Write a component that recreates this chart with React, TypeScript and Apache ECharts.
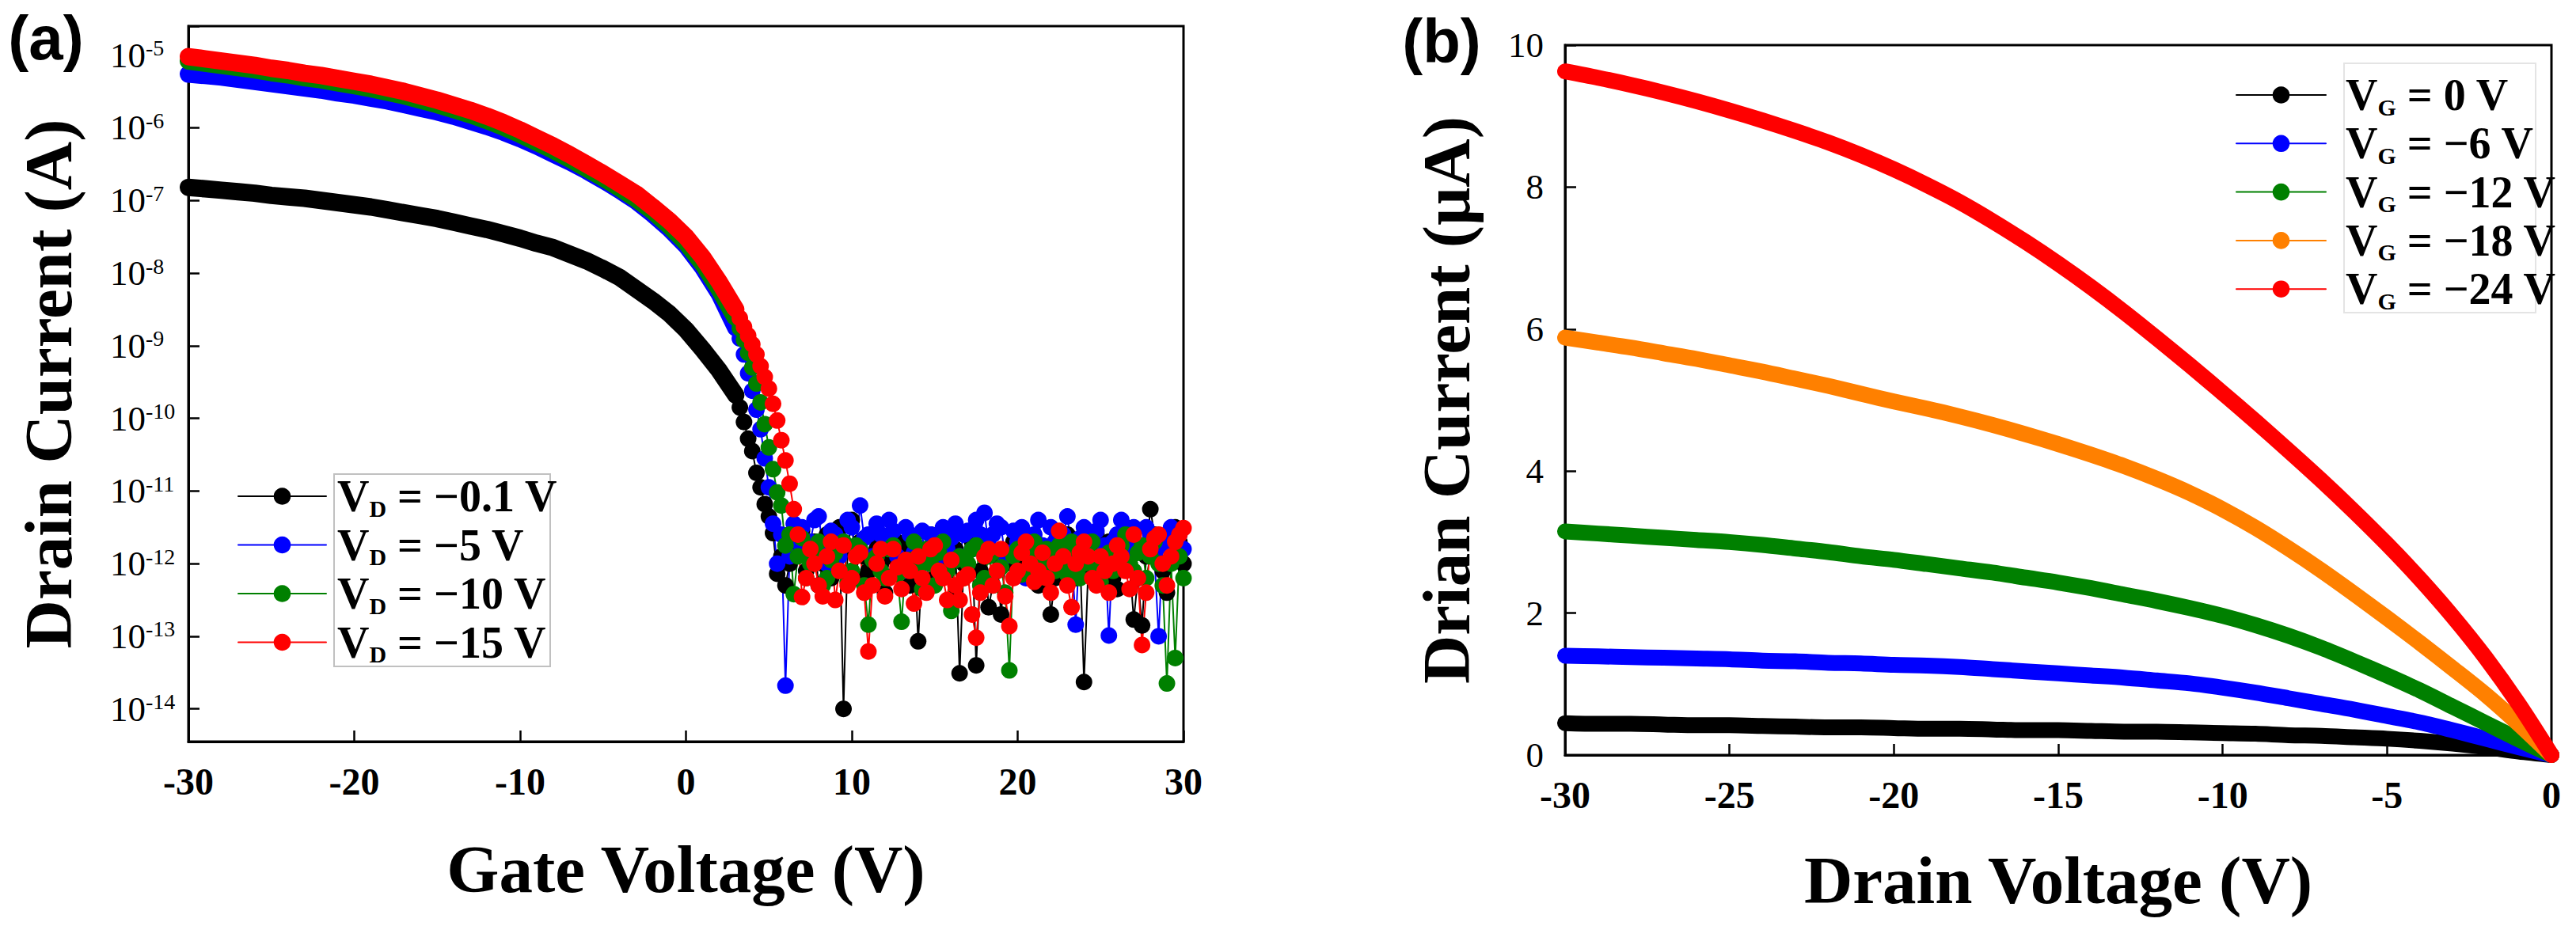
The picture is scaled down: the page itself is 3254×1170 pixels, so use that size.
import { useEffect, useRef } from 'react';
import * as echarts from 'echarts';

// ---------- Panel (a): transfer curves (log10 of drain current, A) ----------
const vgOn = [-30, -29, -28, -27, -26, -25, -24, -23, -22, -21, -20, -19, -18, -17, -16, -15, -14, -13, -12, -11, -10, -9, -8, -7, -6, -5, -4, -3, -2, -1, 0, 1, 2, 3];
const vgOff = [
  3, 3.25, 3.5, 3.75, 4, 4.25, 4.5, 4.75, 5, 5.25, 5.5, 5.75, 6, 6.25, 6.5, 6.75,
  7, 7.25, 7.5, 7.75, 8, 8.25, 8.5, 8.75, 9, 9.25, 9.5, 9.75, 10, 10.25, 10.5, 10.75,
  11, 11.25, 11.5, 11.75, 12, 12.25, 12.5, 12.75, 13, 13.25, 13.5, 13.75, 14, 14.25, 14.5, 14.75,
  15, 15.25, 15.5, 15.75, 16, 16.25, 16.5, 16.75, 17, 17.25, 17.5, 17.75, 18, 18.25, 18.5, 18.75,
  19, 19.25, 19.5, 19.75, 20, 20.25, 20.5, 20.75, 21, 21.25, 21.5, 21.75, 22, 22.25, 22.5, 22.75,
  23, 23.25, 23.5, 23.75, 24, 24.25, 24.5, 24.75, 25, 25.25, 25.5, 25.75, 26, 26.25, 26.5, 26.75,
  27, 27.25, 27.5, 27.75, 28, 28.25, 28.5, 28.75, 29, 29.25, 29.5, 29.75, 30,
];

const blackOnExp = [-6.82, -6.84, -6.86, -6.88, -6.90, -6.93, -6.95, -6.97, -7.00, -7.03, -7.06, -7.09, -7.13, -7.17, -7.21, -7.25, -7.30, -7.35, -7.40, -7.46, -7.52, -7.59, -7.65, -7.74, -7.83, -7.94, -8.06, -8.22, -8.38, -8.56, -8.78, -9.05, -9.34, -9.68];
const blueOnExp = [-5.26, -5.28, -5.30, -5.33, -5.36, -5.39, -5.42, -5.45, -5.48, -5.52, -5.55, -5.59, -5.63, -5.68, -5.73, -5.78, -5.84, -5.91, -5.98, -6.06, -6.15, -6.25, -6.36, -6.47, -6.59, -6.72, -6.86, -7.01, -7.19, -7.39, -7.62, -7.92, -8.28, -8.75];
const greenOnExp = [-5.08, -5.11, -5.14, -5.17, -5.20, -5.24, -5.27, -5.31, -5.34, -5.38, -5.42, -5.46, -5.51, -5.56, -5.62, -5.68, -5.75, -5.82, -5.90, -5.99, -6.09, -6.20, -6.31, -6.43, -6.56, -6.69, -6.83, -6.98, -7.15, -7.35, -7.58, -7.87, -8.22, -8.62];
const redOnExp = [-5.02, -5.05, -5.08, -5.11, -5.14, -5.18, -5.21, -5.25, -5.28, -5.32, -5.36, -5.40, -5.45, -5.50, -5.56, -5.62, -5.69, -5.76, -5.84, -5.93, -6.03, -6.14, -6.25, -6.37, -6.50, -6.63, -6.77, -6.91, -7.09, -7.28, -7.50, -7.78, -8.12, -8.50];

const blackOffExp = [
  -9.68, -9.85, -10.05, -10.28, -10.45, -10.75, -10.95, -11.18, -11.35, -11.58, -12.14, -11.9, -12.3,
  -12.0, -11.75, -11.6,
  -11.55, -12.1, -11.9, -11.7,
  -12.3, -12.0, -11.6, -12.2,
  -11.9, -11.5, -14.0, -11.8,
  -11.4, -12.2, -11.7, -11.9,
  -12.1, -11.6, -11.8, -12.0,
  -12.4, -11.9, -11.65, -12.1,
  -11.9, -11.7, -12.3, -11.8,
  -13.07, -12.0, -11.9, -11.6,
  -12.2, -11.95, -11.75, -12.1,
  -12.5, -11.8, -13.51, -12.0,
  -12.1, -11.7, -13.4, -12.1,
  -11.8, -12.6, -12.3, -11.9,
  -12.7, -12.0, -11.9, -11.7,
  -11.6, -12.1, -12.0, -11.8,
  -11.7, -12.3, -12.2, -11.9,
  -12.7, -12.2, -11.9, -11.7,
  -11.6, -12.0, -12.2, -11.8,
  -13.63, -12.1, -11.85, -11.6,
  -12.1, -11.9, -11.7, -12.2,
  -12.35, -11.8, -11.5, -12.0,
  -12.77, -12.2, -12.85, -11.9,
  -11.25, -11.6, -11.7, -12.1,
  -12.4, -11.8, -11.5, -11.7,
  -12.0,
];
const blueOffExp = [
  -8.75, -8.90, -9.12, -9.38, -9.62, -9.88, -10.15, -10.55, -10.95, -11.45, -12.0, -11.6, -13.68,
  -11.9, -11.45, -11.7,
  -11.5, -11.85, -11.7, -11.4,
  -11.35, -11.75, -12.0, -11.55,
  -11.6, -11.9, -11.75, -11.4,
  -11.5, -11.8, -11.2, -11.65,
  -11.6, -11.9, -11.45, -11.6,
  -11.7, -11.4, -11.55, -11.9,
  -12.1, -11.5, -11.6, -11.85,
  -11.8, -11.55, -12.3, -11.6,
  -11.7, -11.9, -11.5, -11.8,
  -11.65, -11.45, -11.9, -11.6,
  -11.55, -11.8, -11.4, -11.6,
  -11.3, -11.75, -11.6, -11.45,
  -11.5, -11.9, -11.85, -11.55,
  -11.7, -11.5, -12.2, -11.8,
  -11.6, -11.4, -11.75, -11.95,
  -11.5, -11.7, -11.9, -11.6,
  -11.35, -11.8, -12.84, -11.65,
  -11.5, -11.9, -11.7, -11.55,
  -11.4, -11.75, -12.99, -11.7,
  -11.6, -11.4, -11.85, -11.65,
  -11.5, -11.8, -11.75, -11.5,
  -11.6, -11.9, -13.0, -11.75,
  -11.7, -11.5, -11.9, -11.6,
  -11.8,
];
const greenOffExp = [
  -8.62, -8.76, -8.92, -9.10, -9.30, -9.52, -9.78, -10.08, -10.40, -10.70, -11.02, -11.20, -11.75,
  -11.6, -12.42, -11.9,
  -11.65, -12.2, -12.0, -11.8,
  -11.7, -12.3, -12.2, -11.95,
  -11.85, -12.1, -11.7, -12.25,
  -12.1, -11.75, -11.8, -12.3,
  -12.84, -11.95, -11.9, -12.1,
  -12.2, -11.8, -11.75, -12.15,
  -12.8, -12.0, -11.95, -11.7,
  -12.1, -12.35, -11.8, -12.0,
  -12.3, -11.85, -11.7, -12.1,
  -12.65, -11.95, -11.9, -12.2,
  -12.0, -11.8, -11.75, -12.3,
  -12.2, -11.9, -11.85, -12.1,
  -12.05, -12.4, -13.47, -11.9,
  -11.8, -12.15, -12.1, -11.85,
  -11.7, -12.2, -12.0, -11.8,
  -11.9, -12.1, -11.75, -11.95,
  -12.15, -11.7, -11.8, -12.2,
  -12.0, -11.85, -11.7, -12.05,
  -12.25, -11.9, -11.85, -12.1,
  -11.95, -11.75, -11.6, -12.0,
  -12.1, -11.85, -11.75, -12.2,
  -11.9, -11.7, -12.0, -12.3,
  -13.65, -12.0, -13.3, -11.9,
  -12.2,
];
const redOffExp = [
  -8.50, -8.62, -8.74, -8.86, -8.98, -9.12, -9.28, -9.43, -9.59, -9.80, -10.03, -10.30, -10.58,
  -10.9, -11.25, -11.6,
  -12.46, -12.2, -11.8, -12.0,
  -12.3, -12.45, -11.9, -11.7,
  -12.5, -12.1, -11.75, -12.3,
  -12.2, -11.9, -11.85, -12.4,
  -13.21, -12.3, -12.0, -11.8,
  -12.45, -12.2, -11.8, -12.05,
  -12.35, -11.95, -12.1, -12.55,
  -11.9, -12.2, -12.4, -11.8,
  -11.75, -12.1, -12.2, -12.5,
  -11.95, -12.3, -12.5, -12.2,
  -12.15, -12.7, -13.02, -12.4,
  -11.9, -11.8, -12.3, -12.1,
  -11.8, -12.45, -12.86, -12.2,
  -12.1, -11.85, -11.7, -12.0,
  -12.25, -12.1, -11.85, -12.2,
  -12.4, -12.0, -11.55, -11.9,
  -12.3, -12.6, -12.0, -11.85,
  -11.7, -11.9, -12.2, -12.3,
  -11.9, -12.1, -12.4, -12.0,
  -11.75, -11.9, -12.1, -12.35,
  -11.6, -12.2, -13.12, -12.4,
  -11.8, -11.65, -11.6, -12.0,
  -12.3, -11.9, -11.7, -11.6,
  -11.51,
];

const aNames = ['VD=-0.1', 'VD=-5', 'VD=-10', 'VD=-15'];
const aLabels = ['−0.1', '−5', '−10', '−15'];
const aColors = ['#000000', '#0000ff', '#008000', '#ff0000'];

// ---------- Panel (b): output curves (drain current, µA) ----------
const vd = [-30, -29, -28, -27, -26, -25, -24, -23, -22, -21, -20, -19, -18, -17, -16, -15, -14, -13, -12, -11, -10, -9, -8, -7, -6, -5, -4, -3, -2, -1, 0];
const idVg0 = [0.45, 0.44, 0.44, 0.43, 0.42, 0.42, 0.41, 0.40, 0.39, 0.39, 0.38, 0.37, 0.37, 0.36, 0.35, 0.35, 0.34, 0.33, 0.33, 0.32, 0.31, 0.30, 0.28, 0.27, 0.25, 0.23, 0.20, 0.16, 0.11, 0.05, 0];
const idVg6 = [1.40, 1.39, 1.38, 1.37, 1.36, 1.35, 1.33, 1.32, 1.30, 1.29, 1.27, 1.26, 1.24, 1.21, 1.18, 1.15, 1.12, 1.09, 1.05, 1.01, 0.95, 0.88, 0.80, 0.72, 0.64, 0.55, 0.46, 0.35, 0.23, 0.11, 0];
const idVg12 = [3.15, 3.12, 3.09, 3.06, 3.03, 3.00, 2.96, 2.91, 2.86, 2.80, 2.75, 2.69, 2.63, 2.57, 2.50, 2.43, 2.35, 2.26, 2.17, 2.07, 1.96, 1.83, 1.68, 1.51, 1.32, 1.12, 0.91, 0.68, 0.45, 0.22, 0];
const idVg18 = [5.88, 5.81, 5.74, 5.66, 5.58, 5.49, 5.40, 5.30, 5.20, 5.09, 4.98, 4.88, 4.77, 4.65, 4.52, 4.38, 4.23, 4.07, 3.89, 3.69, 3.46, 3.20, 2.91, 2.60, 2.27, 1.93, 1.58, 1.22, 0.85, 0.44, 0];
const idVg24 = [9.63, 9.54, 9.44, 9.33, 9.21, 9.08, 8.94, 8.79, 8.63, 8.45, 8.25, 8.03, 7.79, 7.52, 7.23, 6.92, 6.59, 6.24, 5.87, 5.49, 5.10, 4.70, 4.29, 3.87, 3.43, 2.97, 2.48, 1.95, 1.37, 0.72, 0];

const bNames = ['VG=0', 'VG=-6', 'VG=-12', 'VG=-18', 'VG=-24'];
const bLabels = ['0', '−6', '−12', '−18', '−24'];
const bColors = ['#000000', '#0000ff', '#008000', '#ff8000', '#ff0000'];

const SERIF = '"Liberation Serif", "Times New Roman", serif';
const SANS = '"Liberation Sans", Arial, sans-serif';

function logLabel(v: number) {
  const e = Math.log10(v);
  const r = Math.round(e);
  if (Math.abs(e - r) > 1e-6) return '';
  return `{b|10}{s|${r}}`;
}

const legendRich = {
  v: { fontSize: 56, fontWeight: 'bold', fontFamily: SERIF, lineHeight: 60, color: '#000' },
  d: { fontSize: 30, fontWeight: 'bold', fontFamily: SERIF, lineHeight: 18, verticalAlign: 'bottom', color: '#000' },
  t: { fontSize: 56, fontWeight: 'bold', fontFamily: SERIF, lineHeight: 60, color: '#000' },
};

const nameStyle = { fontFamily: SERIF, fontWeight: 'bold', fontSize: 85, lineHeight: 85, color: '#000' };
const axisLineStyle = { show: true, onZero: false, lineStyle: { color: '#000', width: 3 } };
const tickStyle = { show: true, inside: true, length: 14, lineStyle: { color: '#000', width: 2.5 } };
const xLabelStyle = { margin: 26, fontFamily: SERIF, fontWeight: 'bold', fontSize: 48, color: '#000' };

function buildOption() {
  const onSets = [blackOnExp, blueOnExp, greenOnExp, redOnExp];
  const offSets = [blackOffExp, blueOffExp, greenOffExp, redOffExp];
  const series: any[] = [];
  aNames.forEach((name, k) => {
    series.push({
      name, type: 'line', xAxisIndex: 0, yAxisIndex: 0, symbol: 'none', clip: false, silent: true,
      data: vgOn.map((v, i) => [v, Math.pow(10, onSets[k][i])]),
      lineStyle: { color: aColors[k], width: 22, cap: 'round', join: 'round' },
      itemStyle: { color: aColors[k] },
    });
    series.push({
      name, type: 'line', xAxisIndex: 0, yAxisIndex: 0, symbol: 'circle', symbolSize: 21, showAllSymbol: true, clip: false, silent: true,
      data: vgOff.map((v, i) => [v, Math.pow(10, offSets[k][i])]),
      lineStyle: { color: aColors[k], width: 2 },
      itemStyle: { color: aColors[k] },
    });
  });
  const bSets = [idVg0, idVg6, idVg12, idVg18, idVg24];
  bNames.forEach((name, k) => {
    series.push({
      name, type: 'line', xAxisIndex: 1, yAxisIndex: 1, symbol: 'none', clip: false, silent: true, smooth: 0.3,
      data: vd.map((v, i) => [v, bSets[k][i]]),
      lineStyle: { color: bColors[k], width: 20, cap: 'round', join: 'round' },
      itemStyle: { color: bColors[k] },
    });
  });

  return {
    animation: false,
    backgroundColor: '#ffffff',
    grid: [
      { left: 238, top: 33, width: 1257, height: 904, show: true, borderColor: '#000', borderWidth: 3, backgroundColor: 'transparent', containLabel: false, outerBoundsMode: 'none' },
      { left: 1977, top: 57, width: 1246, height: 897, show: true, borderColor: '#000', borderWidth: 3, backgroundColor: 'transparent', containLabel: false, outerBoundsMode: 'none' },
    ],
    xAxis: [
      {
        gridIndex: 0, type: 'value', min: -30, max: 30, interval: 10,
        axisLine: axisLineStyle, axisTick: tickStyle, axisLabel: xLabelStyle, splitLine: { show: false },
        name: 'Gate Voltage (V)', nameLocation: 'middle', nameGap: 118, nameTextStyle: nameStyle,
      },
      {
        gridIndex: 1, type: 'value', min: -30, max: 0, interval: 5,
        axisLine: axisLineStyle, axisTick: tickStyle, axisLabel: xLabelStyle, splitLine: { show: false },
        name: 'Drain Voltage (V)', nameLocation: 'middle', nameGap: 115, nameTextStyle: nameStyle,
      },
    ],
    yAxis: [
      {
        gridIndex: 0, type: 'log', logBase: 10, min: Math.pow(10, -14.45), max: Math.pow(10, -4.6), splitNumber: 10,
        axisLine: axisLineStyle, axisTick: tickStyle, splitLine: { show: false }, minorTick: { show: false },
        axisLabel: {
          formatter: logLabel, align: 'left', margin: 99,
          rich: {
            b: { fontSize: 45, fontFamily: SERIF, color: '#000', lineHeight: 46 },
            s: { fontSize: 28, fontFamily: SERIF, color: '#000', lineHeight: 28, verticalAlign: 'top' },
          },
        },
        name: 'Drain Current (A)', nameLocation: 'middle', nameGap: 135, nameTextStyle: nameStyle,
      },
      {
        gridIndex: 1, type: 'value', min: 0, max: 10, interval: 2,
        axisLine: axisLineStyle, axisTick: tickStyle, splitLine: { show: false },
        axisLabel: { margin: 27, fontFamily: SERIF, fontSize: 45, color: '#000' },
        name: 'Drian Current (μA)', nameLocation: 'middle', nameGap: 108, nameTextStyle: nameStyle,
      },
    ],
    legend: [
      {
        data: aNames, orient: 'vertical', left: 300, top: 599, padding: 0,
        itemWidth: 111, itemHeight: 27, itemGap: 3.5, selectedMode: false,
        lineStyle: { width: 2 },
        formatter: (n: string) => `{v|V}{d|D}{t| = ${aLabels[aNames.indexOf(n)]} V}`,
        textStyle: { padding: [0, 0, 0, 9], rich: legendRich },
      },
      {
        data: bNames, orient: 'vertical', left: 2824, top: 92, padding: 0,
        itemWidth: 113, itemHeight: 27, itemGap: 3.3, selectedMode: false,
        lineStyle: { width: 2 },
        formatter: (n: string) => `{v|V}{d|G}{t| = ${bLabels[bNames.indexOf(n)]} V}`,
        textStyle: { padding: [0, 0, 0, 20], rich: legendRich },
      },
    ],
    graphic: [
      { type: 'rect', silent: true, shape: { x: 422, y: 599, width: 273, height: 243 }, style: { fill: 'none', stroke: '#c0c0c0', lineWidth: 2 } },
      { type: 'rect', silent: true, shape: { x: 2961, y: 80, width: 242, height: 315 }, style: { fill: 'none', stroke: '#e4e4e4', lineWidth: 2 } },
      { type: 'text', silent: true, x: 58, y: 48, style: { text: '(a)', font: `bold 78px ${SANS}`, fill: '#000', align: 'center', verticalAlign: 'middle' } },
      { type: 'text', silent: true, x: 1821, y: 52, style: { text: '(b)', font: `bold 78px ${SANS}`, fill: '#000', align: 'center', verticalAlign: 'middle' } },
    ],
    series,
  };
}

export default function App() {
  const ref = useRef<HTMLDivElement>(null);
  useEffect(() => {
    document.body.style.margin = '0';
    const chart = echarts.init(ref.current as HTMLDivElement, null, { renderer: 'svg', width: 3254, height: 1170 });
    chart.setOption(buildOption() as any);
    return () => chart.dispose();
  }, []);
  return <div ref={ref} style={{ width: 3254, height: 1170 }} />;
}
